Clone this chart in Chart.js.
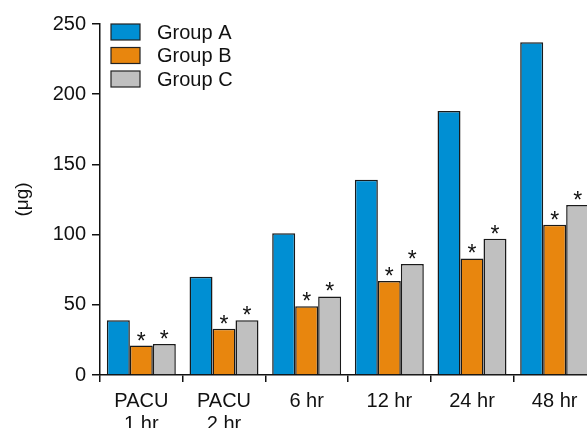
<!DOCTYPE html>
<html>
<head>
<meta charset="utf-8">
<script src="https://cdn.jsdelivr.net/npm/chart.js@4.4.1/dist/chart.umd.min.js"></script>
<style>
html, body { margin: 0; padding: 0; overflow: hidden; background: #fff; }
#wrap { width: 600px; height: 460px; position: relative; }
</style>
</head>
<body>
<div id="wrap"><canvas id="c" width="600" height="460"></canvas></div>
<script>
const categories = [["PACU", "1 hr"], ["PACU", "2 hr"], "6 hr", "12 hr", "24 hr", "48 hr"];
const seriesNames = ["Group A", "Group B", "Group C"];
const groupA = [39, 70, 101, 139, 188, 237];
const groupB = [21, 33, 49, 67, 83, 107];
const groupC = [22, 39, 56, 79, 97, 121];
const sigB = [true, true, true, true, true, true];
const sigC = [true, true, true, true, true, true];
const yTicks = [0, 50, 100, 150, 200, 250];
const colors = ["#008fd3", "#e8860e", "#c0c0c0"];
const FONT = "'Liberation Sans', Arial, Helvetica, sans-serif";

const sigMarks = [null, sigB, sigC];

const overlay = {
  id: 'overlay',
  afterDatasetsDraw(chart) {
    const ctx = chart.ctx;
    ctx.save();
    // asterisks
    ctx.fillStyle = '#111';
    ctx.font = "23px " + FONT;
    ctx.textAlign = 'center';
    ctx.textBaseline = 'alphabetic';
    chart.data.datasets.forEach((ds, di) => {
      const marks = sigMarks[di];
      if (!marks) return;
      const meta = chart.getDatasetMeta(di);
      meta.data.forEach((bar, i) => {
        if (marks[i]) ctx.fillText('*', bar.x, bar.y + 3);
      });
    });
    // legend
    const ca = chart.chartArea;
    const bx = ca.left + 11, by0 = ca.top, bw = 29, bh = 16, step = 23.5;
    ctx.font = "20px " + FONT;
    ctx.textAlign = 'left';
    ctx.textBaseline = 'middle';
    chart.data.datasets.forEach((ds, di) => {
      const y = by0 + di * step;
      ctx.fillStyle = ds.backgroundColor;
      ctx.fillRect(bx, y, bw, bh);
      ctx.strokeStyle = '#222';
      ctx.lineWidth = 1.2;
      ctx.strokeRect(bx, y, bw, bh);
      ctx.fillStyle = '#111';
      ctx.fillText(ds.label, bx + 46, y + bh / 2 + 1);
    });
    ctx.restore();
  }
};

new Chart(document.getElementById('c'), {
  type: 'bar',
  data: {
    labels: categories,
    datasets: [
      { label: seriesNames[0], data: groupA, backgroundColor: colors[0] },
      { label: seriesNames[1], data: groupB, backgroundColor: colors[1] },
      { label: seriesNames[2], data: groupC, backgroundColor: colors[2] }
    ]
  },
  options: {
    responsive: false,
    animation: false,
    devicePixelRatio: 1,
    layout: { padding: { top: 24, right: 4, left: 0, bottom: 0 } },
    datasets: {
      bar: {
        borderColor: '#1a1a1a',
        borderWidth: 1.5,
        categoryPercentage: 0.834,
        barPercentage: 1.0
      }
    },
    plugins: {
      legend: { display: false },
      tooltip: { enabled: false }
    },
    scales: {
      x: {
        grid: {
          display: true, drawOnChartArea: false, drawTicks: true,
          tickLength: 7, color: '#111', lineWidth: 1.5, offset: true
        },
        border: { display: true, color: '#111', width: 1.5 },
        ticks: {
          color: '#111', padding: 8, maxRotation: 0, autoSkip: false,
          font: { family: FONT, size: 20, lineHeight: 1.15 }
        },
        afterFit(scale) { scale.height = 85; }
      },
      y: {
        min: 0, max: 250,
        afterBuildTicks(scale) { scale.ticks = yTicks.map(v => ({ value: v })); },
        grid: {
          display: true, drawOnChartArea: false, drawTicks: true,
          tickLength: 8, color: '#111', lineWidth: 1.5
        },
        border: { display: true, color: '#111', width: 1.5 },
        ticks: {
          color: '#111', padding: 6,
          font: { family: FONT, size: 20 }
        },
        title: {
          display: true, text: '(μg)', color: '#111',
          font: { family: FONT, size: 19 },
          padding: { top: 11, bottom: 0 }
        },
        afterFit(scale) { scale.width = 100; }
      }
    }
  },
  plugins: [overlay]
});
</script>
</body>
</html>
